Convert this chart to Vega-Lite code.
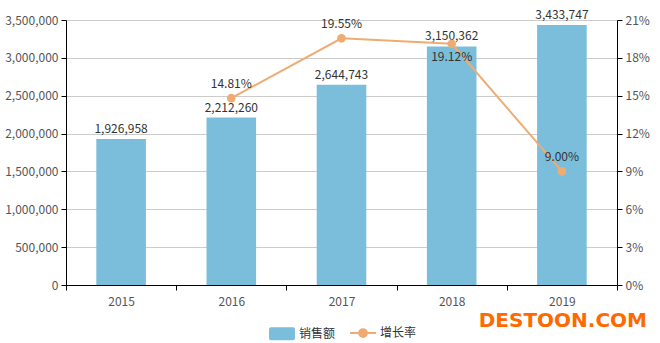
{
  "$schema": "https://vega.github.io/schema/vega-lite/v6.json",
  "width": 551,
  "height": 265,
  "autosize": {"type": "none"},
  "padding": {"left": 66, "top": 20, "right": 43, "bottom": 58},
  "background": "white",
  "title": {
    "text": "DESTOON.COM",
    "orient": "bottom",
    "anchor": "end",
    "frame": "group",
    "offset": -30,
    "dx": 30,
    "font": "DejaVu Sans",
    "fontSize": 20,
    "fontWeight": "bold",
    "color": "#ff6a00"
  },
  "config": {
    "font": "Noto Sans CJK SC",
    "view": {"stroke": null},
    "axis": {
      "labelFont": "Noto Sans CJK SC",
      "labelFontSize": 12,
      "labelColor": "#555",
      "domainColor": "#000",
      "tickColor": "#000",
      "tickSize": 5,
      "titleFontSize": 12
    }
  },
  "data": {
    "values": [
      {"year": "2015", "sales": 1926958, "growth": null, "growth_label": "", "s1": "销售额"},
      {"year": "2016", "sales": 2212260, "growth": 14.81, "growth_label": "14.81%", "s1": "销售额"},
      {"year": "2017", "sales": 2644743, "growth": 19.55, "growth_label": "19.55%", "s1": "销售额"},
      {"year": "2018", "sales": 3150362, "growth": 19.12, "growth_label": "19.12%", "s1": "销售额"},
      {"year": "2019", "sales": 3433747, "growth": 9.00, "growth_label": "9.00%", "s1": "销售额"}
    ]
  },
  "encoding": {
    "x": {
      "field": "year",
      "type": "ordinal",
      "scale": {"paddingInner": 0, "paddingOuter": 0},
      "axis": {"title": null, "labelAngle": 0, "tickBand": "extent", "labelPadding": 6, "grid": false}
    }
  },
  "layer": [
    {
      "encoding": {
        "y": {
          "field": "sales",
          "type": "quantitative",
          "scale": {"domain": [0, 3500000], "nice": false},
          "axis": {
            "title": null,
            "values": [0, 500000, 1000000, 1500000, 2000000, 2500000, 3000000, 3500000],
            "labelExpr": "format(datum.value, ',')",
            "grid": true,
            "gridColor": "#cccccc",
            "labelPadding": 3
          }
        }
      },
      "layer": [
        {
          "mark": {"type": "bar", "width": {"band": 0.45}},
          "encoding": {
            "color": {
              "field": "s1",
              "type": "nominal",
              "scale": {"domain": ["销售额", "增长率"], "range": ["#7bbedb", "#efac72"]},
              "legend": {
                "title": null,
                "orient": "none",
                "legendX": 210,
                "legendY": 307,
                "direction": "horizontal",
                "symbolSize": 676,
                "labelFontSize": 12,
                "labelColor": "#333",
                "labelFont": "Noto Sans CJK SC",
                "labelOffset": 11,
                "columnPadding": 10,
                "encode": {
                  "symbols": {
                    "update": {
                      "shape": {"signal": "datum.value === '销售额' ? 'M-0.85,-0.5 H0.85 A0.15,0.15 0 0 1 1,-0.35 V0.35 A0.15,0.15 0 0 1 0.85,0.5 H-0.85 A0.15,0.15 0 0 1 -1,0.35 V-0.35 A0.15,0.15 0 0 1 -0.85,-0.5 Z' : 'M-1,0 H-0.3 M0.3,0 H1 M-0.3,0 A0.3,0.3 0 1 1 0.3,0 A0.3,0.3 0 1 1 -0.3,0 Z'"},
                      "fill": {"signal": "datum.value === '销售额' ? '#7bbedb' : '#efac72'"},
                      "stroke": {"signal": "datum.value === '销售额' ? '#7bbedb' : '#efac72'"},
                      "strokeWidth": {"signal": "datum.value === '销售额' ? 0 : 2"},
                      "opacity": {"value": 1}
                    }
                  }
                }
              }
            }
          }
        },
        {
          "mark": {"type": "text", "baseline": "bottom", "dy": -3, "fontSize": 12, "color": "#333", "font": "Noto Sans CJK SC"},
          "encoding": {
            "text": {"field": "sales", "type": "quantitative", "format": ","}
          }
        }
      ]
    },
    {
      "transform": [{"filter": "datum.growth != null"}],
      "encoding": {
        "y": {
          "field": "growth",
          "type": "quantitative",
          "scale": {"domain": [0, 21], "nice": false},
          "axis": {
            "orient": "right",
            "title": null,
            "values": [0, 3, 6, 9, 12, 15, 18, 21],
            "labelExpr": "datum.value + '%'",
            "grid": false,
            "labelPadding": 3
          }
        }
      },
      "layer": [
        {
          "mark": {"type": "line", "strokeWidth": 2, "color": "#efac72"}
        },
        {
          "mark": {"type": "point", "filled": true, "size": 75, "opacity": 1, "color": "#efac72"}
        },
        {
          "transform": [{"filter": "datum.year != '2018'"}],
          "mark": {"type": "text", "baseline": "bottom", "dy": -7, "fontSize": 12, "color": "#333", "font": "Noto Sans CJK SC"},
          "encoding": {
            "text": {"field": "growth_label", "type": "nominal"}
          }
        },
        {
          "transform": [{"filter": "datum.year == '2018'"}],
          "mark": {"type": "text", "baseline": "top", "dy": 8, "fontSize": 12, "color": "#333", "font": "Noto Sans CJK SC"},
          "encoding": {
            "text": {"field": "growth_label", "type": "nominal"}
          }
        }
      ]
    }
  ],
  "resolve": {"scale": {"y": "independent"}}
}
